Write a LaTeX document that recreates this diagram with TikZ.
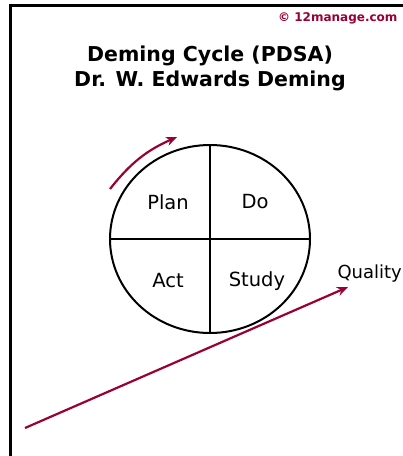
\documentclass[tikz,border=0pt]{standalone}
\usepackage{fontspec}
\setmainfont{DejaVu Sans}
\usepackage{xcolor}
\usetikzlibrary{shapes.geometric, arrows.meta, positioning}

\definecolor{pdsared}{RGB}{153,0,51}

\begin{document}
\begin{tikzpicture}[
  x=1pt, y=-1pt,
  frame/.style={line width=3pt, draw=black},
  quarter/.style={font=\fontsize{19.5}{22}\selectfont, text=black},
  title/.style={font=\fontsize{20.5}{25}\selectfont\bfseries, align=center},
  arrow/.style={-{Stealth[length=11pt, width=9pt]}, line width=2.2pt, draw=pdsared},
]
\useasboundingbox (0,0) rectangle (403,456);
% frame
\draw[frame] (403,5) -| (10,456);
\node[font=\fontsize{12}{14}\selectfont\bfseries, text=pdsared, anchor=east] (copy) at (401,18) {© 12manage.com};
\node[title] (head) at (210,68) {Deming Cycle (PDSA)\\Dr. W. Edwards Deming};
% the cycle
\node[ellipse, draw, line width=2pt, minimum width=200pt, minimum height=188pt, inner sep=0pt] (cycle) at (210,239) {};
\draw[line width=2pt] (cycle.north) -- (cycle.south);
\draw[line width=2pt] (cycle.west) -- (cycle.east);
\node[quarter] (plan) at (168,202) {Plan};
\node[quarter] (do) at (255,202) {Do};
\node[quarter] (act) at (168,281) {Act};
\node[quarter] (study) at (257,281) {Study};
% rotation
\coordinate (turnstart) at (110,189);
\coordinate (turnend) at (177,137);
\draw[arrow] (turnstart) to[bend left=14] (turnend);
% quality slope
\coordinate (slopestart) at (25,428);
\coordinate (slopeend) at (348,287);
\node[quarter, font=\fontsize{18}{20}\selectfont, anchor=base west] (quality) at (334,278) {Quality};
\draw[arrow] (slopestart) -- (slopeend);
\end{tikzpicture}
\end{document}
